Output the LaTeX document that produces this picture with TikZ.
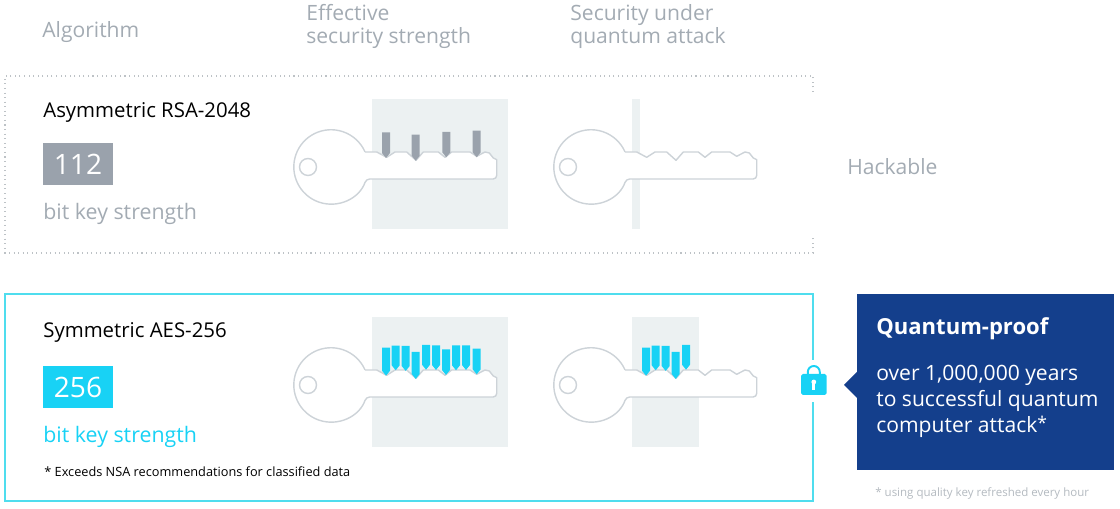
\documentclass[tikz,border=0pt]{standalone}
\usepackage{fontspec}
\setmainfont{Open Sans}
\definecolor{headgray}{HTML}{A3ABB3}
\definecolor{keygray}{HTML}{CDD3D8}
\definecolor{pingray}{HTML}{9AA2AC}
\definecolor{panelgray}{HTML}{ECF1F2}
\definecolor{aescyan}{HTML}{18D2F5}
\definecolor{aesline}{HTML}{4FDDEE}
\definecolor{navy}{HTML}{143F8C}
\definecolor{notegray}{HTML}{B4BAC0}
\tikzset{
	x=0.02cm,y=0.02cm,
	txt/.style={anchor=base west,inner sep=0pt,font=\fontsize{12pt}{14pt}\selectfont},
	algname/.style={txt,text=black,font=\fontsize{11.6pt}{14pt}\selectfont},
	strength/.style={txt,font=\fontsize{12.15pt}{14pt}\selectfont},
	bitbox/.style={minimum width=70*0.02cm,minimum height=42*0.02cm,inner sep=0pt,text=white,font=\fontsize{16pt}{18pt}\selectfont},
	head/.style={txt,text=headgray},
	pics/keyshape/.style={code={
		\draw[keygray,line width=0.8pt,fill=white,line join=round]
			(34,15) -- (45.7,15) -- (55.7,9.7) -- (64,15) -- (75.7,15) -- (85,6.7)
			-- (92.3,15) -- (107.3,15) -- (114,9.7) -- (120.7,15) -- (139,15)
			-- (145.7,10.7) -- (154,15) -- (158.3,14) -- (162.3,9) -- (165.7,7.3)
			[rounded corners=2pt] -- (165.7,-12) -- (35.2,-12) [sharp corners]
			arc[start angle=-18.9,end angle=-336.2,radius=37.2*0.02cm];
		\draw[keygray,line width=0.8pt] (-23,0) circle (8.5);
	}},
}
\newcommand{\keypin}[4]{\fill[#4] (#1-4,#2) -- (#1+4,#2) -- (#1+4,#3+5) -- (#1,#3) -- (#1-4,#3+5) -- cycle;}
\begin{document}
\begin{tikzpicture}
	\useasboundingbox (0,0) rectangle (1120,509);
	%tieu de
	\node[head] (algo) at (42,471) {Algorithm};
	\node[head] (eff1) at (306,488) {Effective};
	\node[head] (eff2) at (306,465) {security strength};
	\node[head] (sec1) at (570,488) {Security under};
	\node[head] (sec2) at (570,465) {quantum attack};
	%hinh1
	\draw[keygray!80!gray,dotted,line width=0.6pt] (813,417) -- (813,433) -- (5,433) -- (5,256) -- (813,256) -- (813,274);
	\fill[panelgray] (372,410) rectangle (508,280);
	\fill[panelgray] (632,410) rectangle (640,280);
	\pic (keyrsa) at (331,342) {keyshape};
	\pic (keyrsaq) at (591,342) {keyshape};
	\begin{scope}[shift={(331,342)}]
		\foreach \a/\b/\c in {55/34.7/9,84.7/32.3/6.3,115.3/35/9.7,145.7/36.3/9.7}
			{\keypin{\a}{\b}{\c}{pingray}}
	\end{scope}
	\node[algname] (rsa) at (43,391) {Asymmetric RSA-2048};
	\node[bitbox,fill=pingray] (bitsrsa) at (78,345) {112};
	\node[strength,text=headgray] (strrsa) at (43,289) {bit key strength};
	\node[head] (hack) at (847,334) {Hackable};
	%hinh2
	\draw[aesline,line width=0.8pt] (813,149) -- (813,215) -- (5,215) -- (5,8) -- (813,8) -- (813,107);
	\fill[panelgray] (372,191.7) rectangle (508,61.7);
	\fill[panelgray] (632,191.7) rectangle (698.7,61.7);
	\pic (keyaes) at (331,124) {keyshape};
	\pic (keyaesq) at (591,124) {keyshape};
	\begin{scope}[shift={(331,124)}]
		\foreach \a/\b/\c in {55/37.3/9.3,64.7/39.3/14.7,74.7/39/14,84.7/33/6,95/40/15.3,105/39.7/15,115/35.7/10,125/39.7/14.7,135/39.7/15,145.7/36.3/10.7}
			{\keypin{\a}{\b}{\c}{aescyan}}
	\end{scope}
	\begin{scope}[shift={(591,124)}]
		\foreach \a/\b/\c in {55/37.3/9.3,64.7/39.3/14.7,74.7/39/14,84.7/33/6,95/40/15.3}
			{\keypin{\a}{\b}{\c}{aescyan}}
	\end{scope}
	\node[algname] (aes) at (43,171) {Symmetric AES-256};
	\node[bitbox,fill=aescyan] (bitsaes) at (78,122) {256};
	\node[strength,text=aescyan] (straes) at (43,66) {bit key strength};
	\node[txt,text=black,font=\fontsize{7.25pt}{9pt}\selectfont] (exceeds) at (44,32) {* Exceeds NSA recommendations for classified data};
	%khoa
	\draw[aescyan,line width=1.1pt] (807.8,134) -- (807.8,137) arc[start angle=180,end angle=0,radius=6*0.02cm] -- (819.8,134);
	\fill[aescyan,rounded corners=1pt] (801,114) rectangle (826.7,135);
	\fill[white] (813.8,127) circle (2.4);
	\fill[white] (812.4,119) rectangle (815.2,127);
	%hop xanh
	\fill[navy] (857,215) rectangle (1114,39);
	\fill[navy] (844,124) -- (857,137) -- (857,111) -- cycle;
	\node[txt,text=white,font=\fontsize{12.55pt}{16pt}\bfseries\selectfont] (proof) at (876,174) {Quantum-proof};
	\node[txt,text=white] (over) at (876,128) {over 1,000,000 years};
	\node[txt,text=white] (succ) at (876,102) {to successful quantum};
	\node[txt,text=white] (comp) at (876,76) {computer attack\raisebox{2pt}{\fontsize{10pt}{12pt}\selectfont *}};
	\node[txt,text=notegray,font=\fontsize{6.55pt}{9pt}\selectfont] (using) at (875,12) {* using quality key refreshed every hour};
\end{tikzpicture}
\end{document}
